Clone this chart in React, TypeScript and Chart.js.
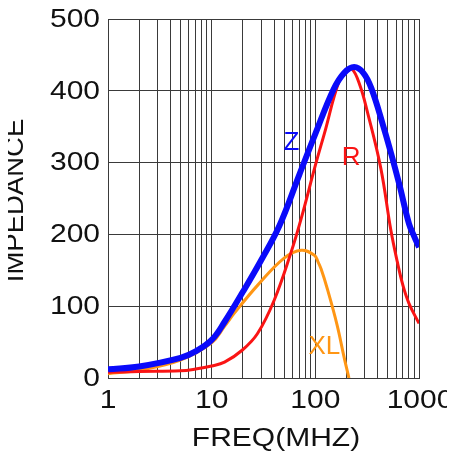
import React, { useEffect, useRef } from "react";
import { Chart, registerables } from "chart.js";

Chart.register(...registerables);

// ---- data ----
const zFreq = [1, 2, 5, 7, 10, 13.3, 20, 30, 45, 70, 100, 150, 190, 237, 290, 346, 450, 540, 650, 800, 900, 1000];
const zValues = [12, 16, 28, 37, 53, 78, 120, 164, 212, 283, 340, 402, 425, 433, 425, 404, 352, 312, 268, 215, 197, 182];

const rFreq = [1, 2, 5, 7, 10, 13.3, 19.8, 27.7, 40, 58.3, 73, 100, 122, 170, 200, 227, 270, 316, 427, 535, 617, 700, 800, 1000];
const rValues = [8, 9, 10, 12.5, 16.7, 22, 39, 62, 108, 175, 222, 296, 340, 414, 426, 430, 407, 372, 293, 206, 162, 129, 104, 76];

const xlFreq = [1, 2, 5, 10, 13.3, 16.7, 27.7, 50, 73, 98, 106, 113.5, 130, 162, 190, 211];
const xlValues = [6, 11, 25, 49, 72, 91, 129, 167, 178, 171, 162, 152, 125, 74, 28, 0];

const xTickValues = [1, 10, 100, 1000];
const xTickLabels = ["1", "10", "100", "1000"];
const xGridValues = [
  1, 2, 3, 4, 5, 6, 7, 8, 9,
  10, 20, 30, 40, 50, 60, 70, 80, 90,
  100, 200, 300, 400, 500, 600, 700, 800, 900, 1000,
];
const yTickValues = [0, 100, 200, 300, 400, 500];
const yTickLabels = ["0", "100", "200", "300", "400", "500"];

const xTitle = "FREQ(MHZ)";
const yTitle = "IMPEDANCE";

const seriesNames = ["Z", "R", "XL"];
const seriesColors = ["#0a0afa", "#fa1414", "#ff9614"];
// anchor points of in-plot labels (frequency, impedance)
const labelAnchorsFreq = [58.8, 222, 122];
const labelAnchorsValue = [328, 306, 43];

const FONT = '"Liberation Sans", Arial, sans-serif';

const toPts = (xs: number[], ys: number[]) => xs.map((x, i) => ({ x, y: ys[i] }));

const textPlugin = {
  id: "customText",
  afterDraw(chart: any) {
    const { ctx, chartArea, scales } = chart;
    const xs = scales.x;
    const ys = scales.y;
    ctx.save();
    ctx.fillStyle = "#111";
    ctx.font = `25px ${FONT}`;
    // y tick labels
    ctx.textAlign = "right";
    ctx.textBaseline = "middle";
    yTickValues.forEach((v, i) => {
      const py = ys.getPixelForValue(v);
      ctx.save();
      ctx.translate(chartArea.left - 8, py + 1);
      ctx.scale(1.2, 1);
      ctx.fillText(yTickLabels[i], 0, 0);
      ctx.restore();
    });
    // x tick labels
    ctx.textAlign = "center";
    xTickValues.forEach((v, i) => {
      const px = xs.getPixelForValue(v);
      ctx.save();
      ctx.translate(px + (i === 3 ? 1 : 0), chartArea.bottom + 23);
      ctx.scale(1.2, 1);
      ctx.fillText(xTickLabels[i], 0, 0);
      ctx.restore();
    });
    // x title
    ctx.save();
    ctx.translate(chartArea.left + 168, chartArea.bottom + 61);
    ctx.scale(1.2, 1);
    ctx.fillText(xTitle, 0, 0);
    ctx.restore();
    // y title
    ctx.save();
    ctx.translate(chartArea.left - 92, (chartArea.top + chartArea.bottom) / 2 + 2);
    ctx.rotate(-Math.PI / 2);
    ctx.scale(1.1, 1);
    ctx.fillText(yTitle, 0, 0);
    ctx.restore();
    // series labels
    ctx.font = `26px ${FONT}`;
    seriesNames.forEach((name, i) => {
      ctx.fillStyle = seriesColors[i];
      ctx.fillText(
        name,
        xs.getPixelForValue(labelAnchorsFreq[i]),
        ys.getPixelForValue(labelAnchorsValue[i])
      );
    });
    ctx.restore();
  },
};

export default function App() {
  const ref = useRef<HTMLCanvasElement>(null);
  useEffect(() => {
    if (!ref.current) return;
    const common = { pointRadius: 0, tension: 0.4, fill: false };
    const chart = new Chart(ref.current, {
      type: "line",
      data: {
        datasets: [
          {
            label: seriesNames[0],
            data: toPts(zFreq, zValues),
            borderColor: seriesColors[0],
            borderWidth: 6,
            order: 0,
            ...common,
          },
          {
            label: seriesNames[1],
            data: toPts(rFreq, rValues),
            borderColor: seriesColors[1],
            borderWidth: 3,
            order: 1,
            ...common,
          },
          {
            label: seriesNames[2],
            data: toPts(xlFreq, xlValues),
            borderColor: seriesColors[2],
            borderWidth: 3,
            order: 2,
            ...common,
          },
        ],
      },
      options: {
        animation: false,
        responsive: false,
        devicePixelRatio: 1,
        layout: { padding: { left: 108, top: 19, right: 36, bottom: 79 } },
        plugins: { legend: { display: false }, tooltip: { enabled: false } },
        scales: {
          x: {
            type: "logarithmic",
            min: 1,
            max: 1000,
            afterBuildTicks: (scale: any) => {
              scale.ticks = xGridValues.map((v) => ({ value: v }));
            },
            ticks: { display: false },
            grid: { color: "#3a3a3a", lineWidth: 1, drawTicks: false },
            border: { display: true, color: "#3a3a3a", width: 1 },
          },
          y: {
            type: "linear",
            min: 0,
            max: 500,
            afterBuildTicks: (scale: any) => {
              scale.ticks = yTickValues.map((v) => ({ value: v }));
            },
            ticks: { display: false },
            grid: { color: "#3a3a3a", lineWidth: 1, drawTicks: false },
            border: { display: true, color: "#3a3a3a", width: 1 },
          },
        },
      },
      plugins: [textPlugin],
    } as any);
    return () => chart.destroy();
  }, []);
  return (
    <div style={{ width: 455, height: 457, marginLeft: -8, marginTop: -8 }}>
      <canvas ref={ref} width={455} height={457} style={{ display: "block" }} />
    </div>
  );
}
